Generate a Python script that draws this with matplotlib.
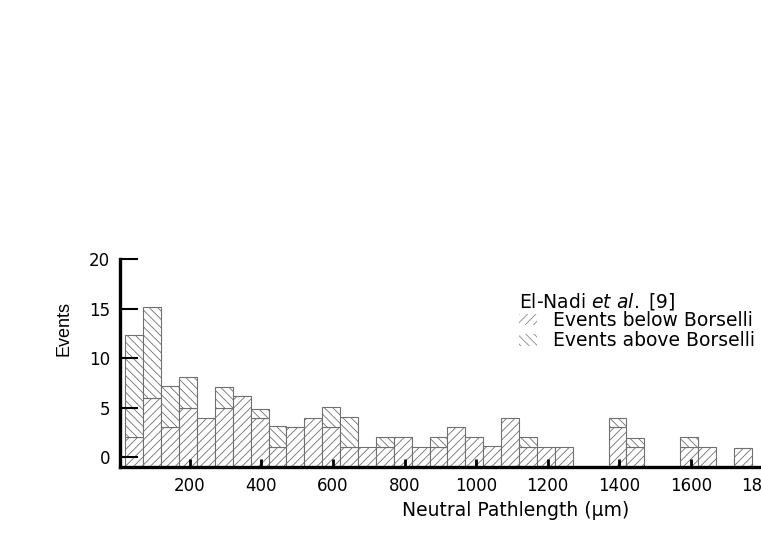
import matplotlib
matplotlib.use("Agg")
import matplotlib.pyplot as plt
from matplotlib.patches import Patch

# bins 50 um wide, starting at 20 um
bin_left = [20 + 50 * k for k in range(35)]
# counts (below / total)
below = [2, 6, 3, 5, 3.9, 5, 6.2, 3.9, 1, 3, 3.9, 3, 1, 1, 1, 2, 1, 1, 3, 2,
         1.1, 3.9, 1, 1, 1, 0, 0, 3, 1, 0, 0, 1, 1, 0, 0.9]
total = [12.3, 15.2, 7.2, 8.1, 3.9, 7.1, 6.2, 4.9, 3.1, 3, 3.9, 5.05, 4, 1, 2, 2, 1, 2, 3, 2,
         1.1, 3.9, 2, 1, 1, 0, 0, 3.9, 1.9, 0, 0, 2, 1, 0, 0.9]
y_ticks = [0, 5, 10, 15, 20]
x_ticks = [200, 400, 600, 800, 1000, 1200, 1400, 1600, 1800]

BIN_W = 50
BASE = -1  # bars start at the axis line, one unit under the zero tick

plt.rcParams["font.family"] = ["DejaVu Sans"]
plt.rcParams["mathtext.fontset"] = "dejavusans"
plt.rcParams["hatch.linewidth"] = 0.6

fig = plt.figure(figsize=(7.61, 5.54), dpi=100)
ax = fig.add_axes([120 / 761, 1 - 467 / 554, 714 / 761, 208 / 554])

edge = "#707070"
for x, b, t in zip(bin_left, below, total):
    if t <= 0:
        continue
    ax.bar(x, b - BASE, bottom=BASE, width=BIN_W, align="edge",
           facecolor="white", edgecolor=edge, linewidth=0.8, hatch="////")
    if t > b:
        ax.bar(x, t - b, bottom=b, width=BIN_W, align="edge",
               facecolor="white", edgecolor=edge, linewidth=0.8, hatch="\\\\\\\\")

ax.set_xlim(5, 2000)
ax.set_ylim(BASE, 20)
ax.spines["top"].set_visible(False)
ax.spines["right"].set_visible(False)
ax.spines["left"].set_linewidth(2.4)
ax.spines["bottom"].set_linewidth(2.4)
ax.spines["left"].set_zorder(5)
ax.spines["bottom"].set_zorder(5)

ax.set_yticks(y_ticks)
ax.set_yticklabels([str(v) for v in y_ticks], fontsize=12)
ax.tick_params(axis="y", direction="in", length=13, width=1.5, pad=7)
ax.set_xticks(x_ticks)
ax.set_xticklabels([str(v) for v in x_ticks], fontsize=12)
ax.tick_params(axis="x", direction="in", length=6, width=2, pad=7)

fig.text(64 / 761, 1 - 328 / 554, "Events", rotation=90, ha="center", va="center",
         fontsize=13, family=["Liberation Sans Narrow", "Liberation Sans"])
fig.text(516 / 761, 1 - 510 / 554, "Neutral Pathlength (\u03bcm)", ha="center", va="center",
         fontsize=13.5)

# legend
fig.text(519 / 761, 1 - 301 / 554, r"El-Nadi $\mathit{et\ al.}$ [9]", ha="left", va="center",
         fontsize=13.5)
handles = [Patch(facecolor="white", edgecolor="#888888", hatch="////", linewidth=0),
           Patch(facecolor="white", edgecolor="#888888", hatch="\\\\\\\\", linewidth=0)]
fig.legend(handles, ["Events below Borselli", "Events above Borselli"],
           loc="upper left", bbox_to_anchor=(519 / 761, 1 - 311 / 554), frameon=False,
           prop={"size": 13.5}, borderpad=0, borderaxespad=0,
           handlelength=0.95, handleheight=0.55, handletextpad=0.85, labelspacing=0.08)

fig.savefig("out.png", dpi=100)
